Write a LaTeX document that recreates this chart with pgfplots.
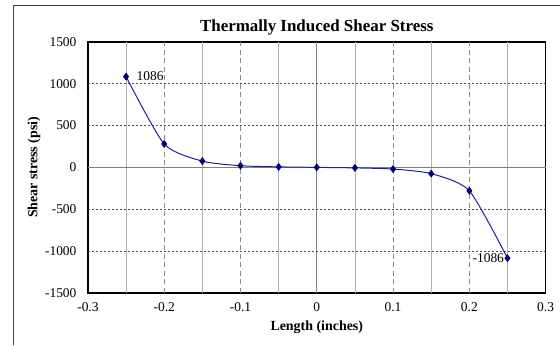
\documentclass[border=0pt]{standalone}
\usepackage{pgfplots}
\pgfplotsset{compat=1.18}
\usepackage{fontspec}
\setmainfont{Liberation Serif}
\definecolor{navyline}{RGB}{30,30,160}
\definecolor{navymark}{RGB}{0,0,120}
\begin{document}
\begin{tikzpicture}[x=1bp,y=1bp]
\path (0,0) rectangle (560,345);
\draw[line width=0.8bp, black!75] (13,0) -- (13,340) -- (560,340);
\begin{axis}[
  at={(88bp,52bp)}, anchor=south west,
  scale only axis, width=458bp, height=251bp,
  xmin=-0.3, xmax=0.3, ymin=-1500, ymax=1500,
  xtick={-0.3,-0.2,...,0.31}, ytick={-1500,-1000,...,1500},
  xticklabels={-0.3,-0.2,-0.1,0,0.1,0.2,0.3},
  major tick length=0pt,
  tick label style={font=\fontsize{13.5}{15}\selectfont},
  xticklabel style={yshift=-6bp},
  yticklabel style={xshift=-8bp},
  /pgf/number format/assume math mode=true,
  /pgf/number format/set thousands separator={},
  axis line style={line width=1.6bp, black},
  title={\bfseries Thermally Induced Shear Stress},
  title style={font=\fontsize{17}{19}\selectfont\bfseries, yshift=-3bp},
  xlabel={\bfseries Length (inches)},
  ylabel={\bfseries Shear stress (psi)},
  label style={font=\fontsize{14}{16}\selectfont\bfseries},
  xlabel style={yshift=-3bp},
  ylabel style={yshift=-2bp},
  clip=false,
]
% vertical grid lines
\foreach \xv in {-0.25,-0.15,-0.05,0.05,0.15,0.25} {
  \edef\tmp{\noexpand\draw[black!30, line width=0.8bp] (axis cs:\xv,-1500) -- (axis cs:\xv,1500);}\tmp
}
\foreach \xv in {-0.2,-0.1,0.1,0.2} {
  \edef\tmp{\noexpand\draw[black!45, line width=0.8bp, dash pattern=on 5bp off 3.5bp] (axis cs:\xv,-1500) -- (axis cs:\xv,1500);}\tmp
}
\draw[black!50, line width=0.8bp] (axis cs:0,-1500) -- (axis cs:0,1500);
% horizontal grid lines
\foreach \yv in {-1000,-500,500,1000} {
  \edef\tmp{\noexpand\draw[black!70, line width=0.6bp, dash pattern=on 2bp off 2bp] (axis cs:-0.3,\yv) -- (axis cs:0.3,\yv);}\tmp
}
\draw[black!50, line width=0.8bp] (axis cs:-0.3,0) -- (axis cs:0.3,0);
\addplot[navyline, line width=1bp, smooth, tension=0.4, mark=diamond*, mark size=3.2bp,
  mark options={navymark, fill=navymark, solid}] coordinates {
  (-0.25,1086) (-0.2,280) (-0.15,75) (-0.1,20) (-0.05,6) (0,0)
  (0.05,-6) (0.1,-20) (0.15,-75) (0.2,-280) (0.25,-1086)
};
\node[anchor=west, font=\fontsize{13.5}{15}\selectfont] at (axis cs:-0.25,1086) {\hspace{7bp}1086};
\node[anchor=east, font=\fontsize{13.5}{15}\selectfont] at (axis cs:0.25,-1086) {-1086\hspace{4bp}};
\end{axis}
\end{tikzpicture}
\end{document}
